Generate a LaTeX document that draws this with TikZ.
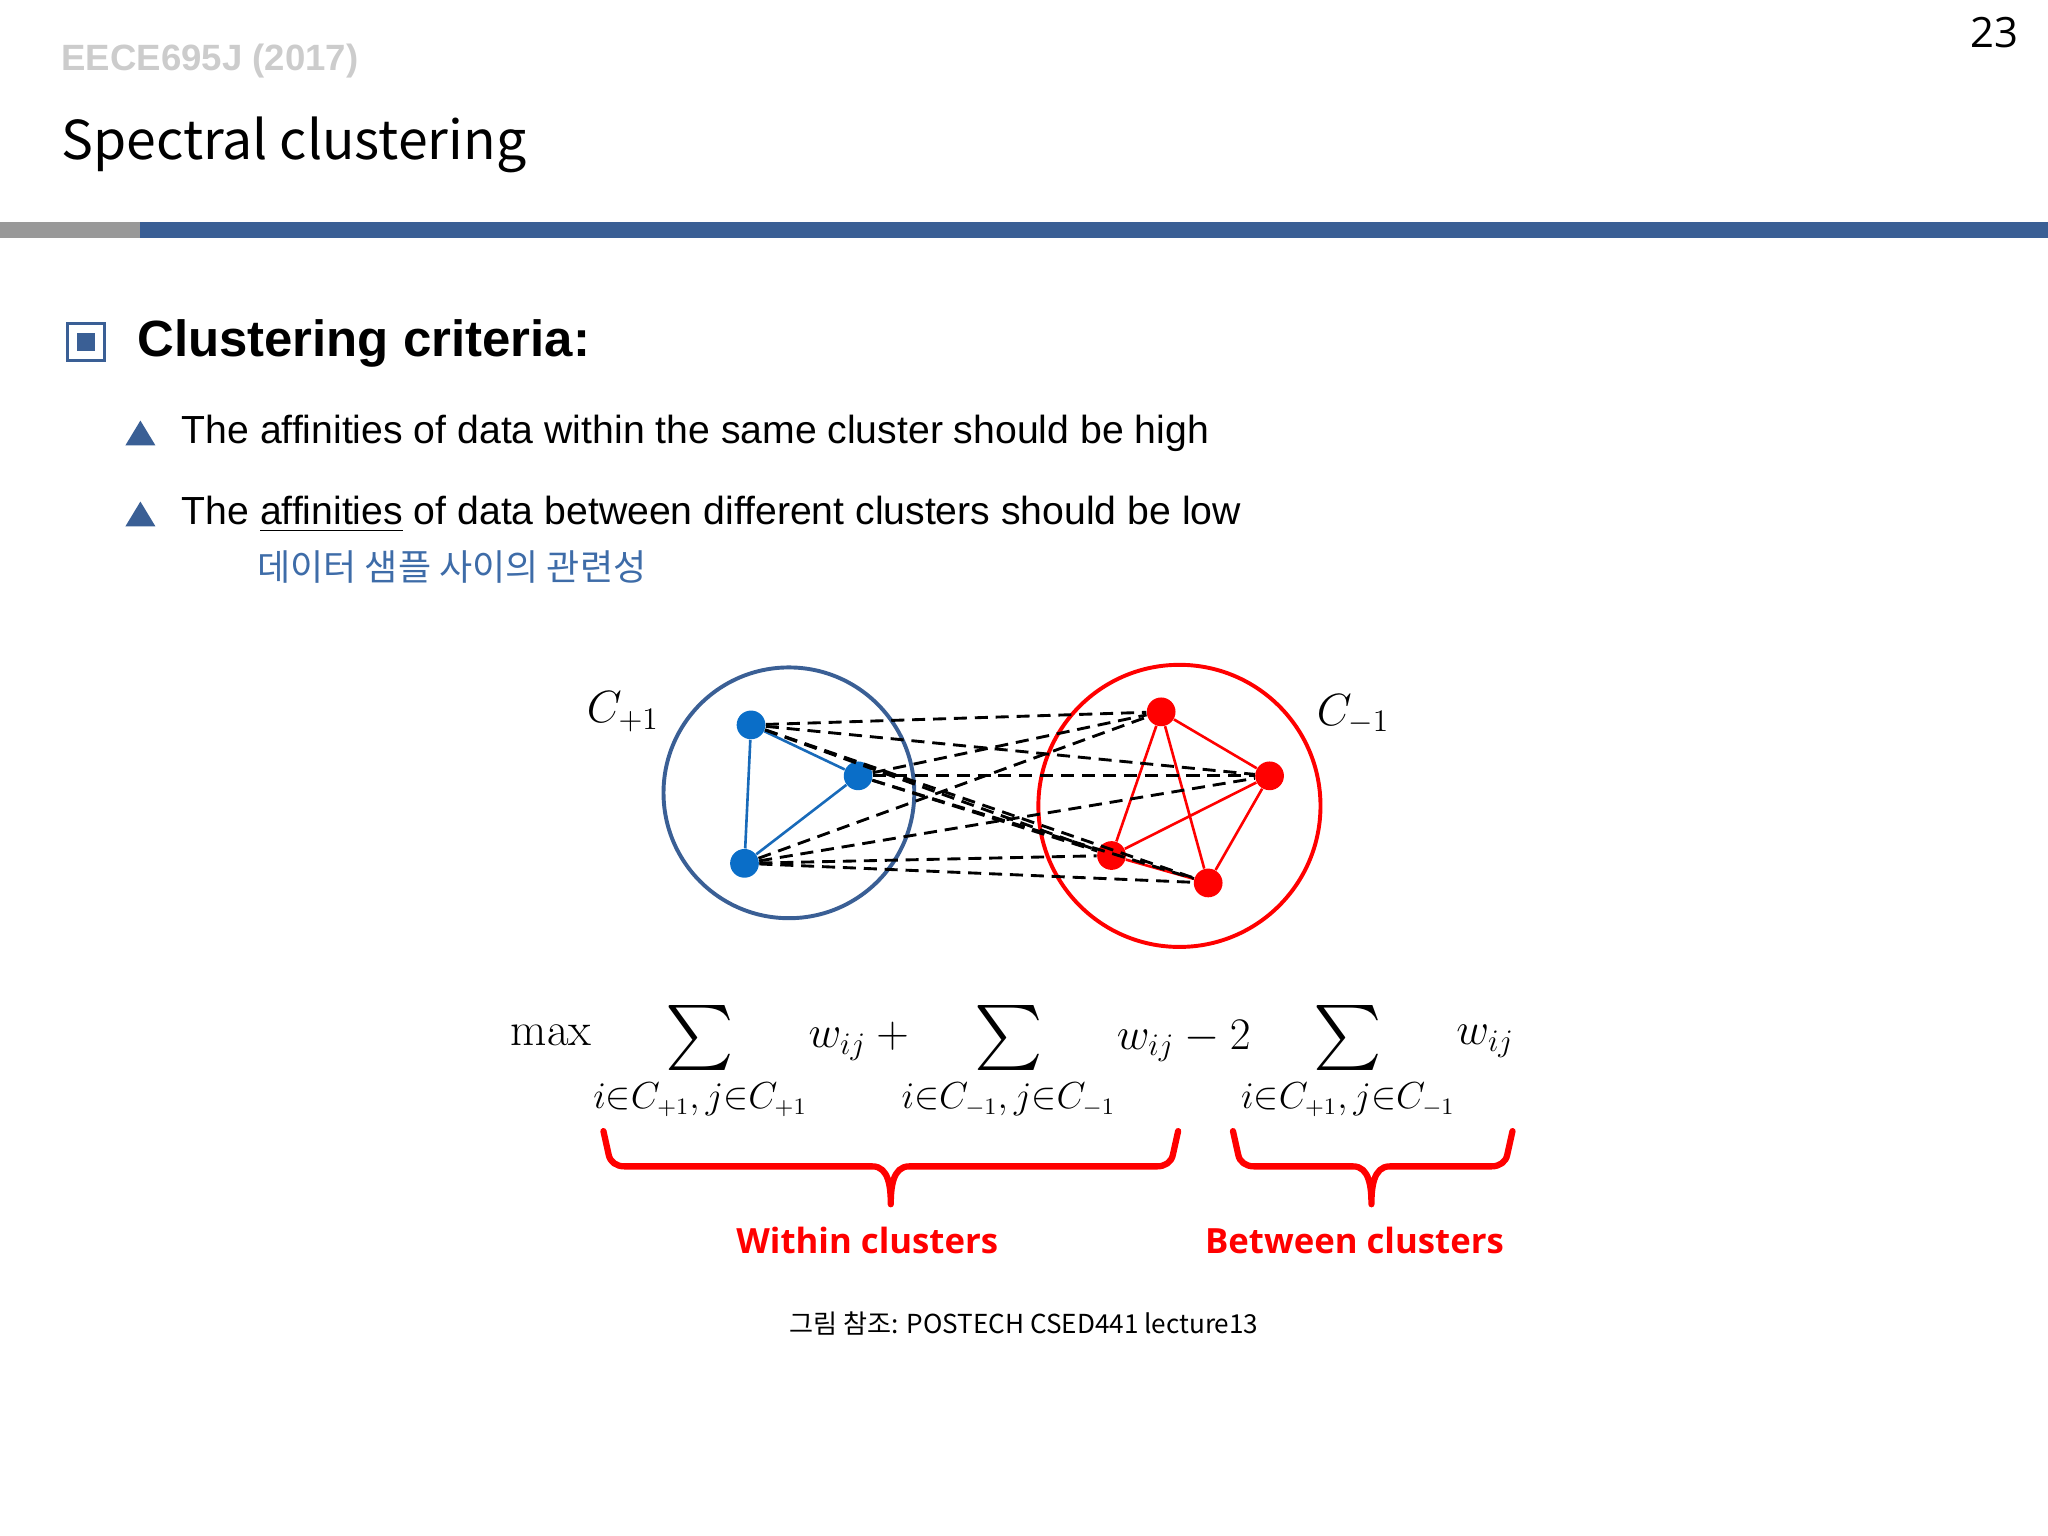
\documentclass[tikz,border=0pt]{standalone}
\usepackage{fontspec}
\usepackage{amsmath}
\setmainfont{Liberation Sans}
\newfontfamily\kr{Noto Sans CJK KR}
\newfontfamily\osans{Open Sans}
\newfontfamily\lmr{Latin Modern Roman}
\definecolor{sblue}{HTML}{3A5F95}
\definecolor{nblue}{HTML}{0A6EC8}
\definecolor{kblue}{HTML}{3E6CA8}
\tikzset{bdot/.style={circle,fill=nblue,inner sep=0pt,minimum size=11pt},
 rdot/.style={circle,fill=red,inner sep=0pt,minimum size=11pt},
 dl/.style={dashed,line width=1.1pt,dash pattern=on 5pt off 3pt},
 brace/.style={red,line width=2.4pt,line cap=round,line join=round},
 mt/.style={font=\fontsize{18}{20}\selectfont},
 sg/.style={font=\fontsize{25}{28}\selectfont},
 sb/.style={font=\fontsize{13.5}{15}\selectfont}}
\begin{document}
\begin{tikzpicture}[x=0.5pt,y=-0.5pt]
\useasboundingbox (0,0) rectangle (1568,1176);
\node[anchor=east,font=\osans\fontsize{16}{18}\selectfont] (pg) at (1552,25) {23};
\node[anchor=west,font=\bfseries\fontsize{14}{16}\selectfont,text=black!20] (hd) at (40,47) {EECE695J (2017)};
\node[anchor=west,font=\kr\fontsize{20.5}{24}\selectfont] (tt) at (40,111) {Spectral clustering};
\fill[black!40] (0,170) rectangle (107,182);
\fill[sblue] (107,170) rectangle (1568,182);
\draw[sblue,line width=1.2pt] (52,248) rectangle (80,276);
\fill[sblue] (59,255) rectangle (73,269);
\node[anchor=west,font=\bfseries\fontsize{19.5}{22}\selectfont] (h1) at (98,263) {Clustering criteria:};
\fill[sblue] (96,341) -- (119,341) -- (107.5,322) -- cycle;
\fill[sblue] (96,403) -- (119,403) -- (107.5,384) -- cycle;
\node[anchor=west,font=\fontsize{15}{18}\selectfont] (b1) at (132,332) {The affinities of data within the same cluster should be high};
\node[anchor=west,font=\fontsize{15}{18}\selectfont] (b2) at (132,394) {The \underline{affinities} of data between different clusters should be low};
\node[anchor=west,font=\kr\fontsize{13.8}{15}\selectfont,text=kblue] (kr) at (190,434) {데이터 샘플 사이의 관련성};
% graph
\draw[sblue,line width=1.5pt] (604,607) circle (96);
\draw[red,line width=1.5pt] (903,617) circle (108);
\node[bdot] (B1) at (575,555) {};
\node[bdot] (B2) at (657,594) {};
\node[bdot] (B3) at (570,661) {};
\node[rdot] (R1) at (889,545) {};
\node[rdot] (R2) at (972,594) {};
\node[rdot] (R3) at (851,655) {};
\node[rdot] (R4) at (925,676) {};
\draw[nblue!70!sblue,line width=1pt] (B1)--(B2)--(B3)--(B1);
\draw[red,line width=1pt] (R1)--(R2)--(R4)--(R3)--(R1)--(R4) (R3)--(R2);
\foreach \b in {B1,B2,B3}{\foreach \r in {R1,R2,R3,R4}{\draw[dl] (\b)--(\r);}}
\node[mt] (cp) at (477,545) {$C_{+1}$};
\node[mt] (cm) at (1036,547) {$C_{-1}$};
% formula
\node[font=\lmr\fontsize{18}{20}\selectfont] (mx) at (422,793) {max};
\node[sg] (s1) at (536,795) {$\sum$};
\node[sg] (s2) at (772,795) {$\sum$};
\node[sg] (s3) at (1032,795) {$\sum$};
\node[sb] (u1) at (536,842) {$i{\in}C_{+1},j{\in}C_{+1}$};
\node[sb] (u2) at (772,842) {$i{\in}C_{-1},j{\in}C_{-1}$};
\node[sb] (u3) at (1032,842) {$i{\in}C_{+1},j{\in}C_{-1}$};
\node[mt,anchor=west] (w1) at (612,797) {$w_{ij}+{}$};
\node[mt,anchor=west] (w2) at (848,797) {$w_{ij}-2$};
\node[mt,anchor=west] (w3) at (1108,797) {$w_{ij}$};
% braces
\draw[brace] (462,866) -- (466,884) to[out=-80,in=180] (478,893) -- (668,893) to[out=0,in=90] (682,922) to[out=90,in=180] (696,893) -- (886,893) to[out=0,in=-100] (898,884) -- (902,866);
\draw[brace] (944,866) -- (948,884) to[out=-80,in=180] (960,893) -- (1036,893) to[out=0,in=90] (1050,922) to[out=90,in=180] (1064,893) -- (1142,893) to[out=0,in=-100] (1154,884) -- (1158,866);
\node[font=\osans\bfseries\fontsize{13.3}{16}\selectfont,text=red] (w) at (664,950) {Within clusters};
\node[font=\osans\bfseries\fontsize{13.3}{16}\selectfont,text=red] (bc) at (1037,950) {Between clusters};
\node[font=\kr\fontsize{10}{12}\selectfont] (ref) at (784,1013) {그림 참조: POSTECH CSED441 lecture13};
\end{tikzpicture}
\end{document}
